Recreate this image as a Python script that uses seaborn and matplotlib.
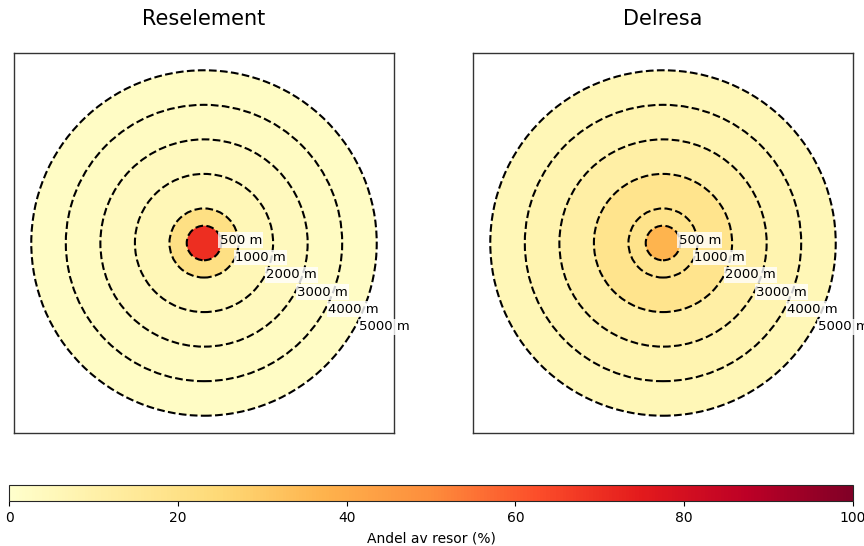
import numpy as np
import matplotlib
matplotlib.use("Agg")
import matplotlib.pyplot as plt
import seaborn as sns
from matplotlib.patches import Circle
from matplotlib.colors import Normalize
from matplotlib.cm import ScalarMappable

# --- DATA ---
radii = [500, 1000, 2000, 3000, 4000, 5000]
ring_labels = ["500 m", "1000 m", "2000 m", "3000 m", "4000 m", "5000 m"]
panel_titles = ["Reselement", "Delresa"]
reselement_share = [70, 21, 6, 4, 3, 2]
delresa_share = [37, 19, 18, 11, 8, 6]
cbar_ticks = [0, 20, 40, 60, 80, 100]

sns.set_style("white", {"text.color": "black", "xtick.color": "black",
                        "axes.labelcolor": "black",
                        "xtick.bottom": True})
cmap = sns.color_palette("YlOrRd", as_cmap=True)
norm = Normalize(vmin=0, vmax=100)

fig = plt.figure(figsize=(8.64, 5.46), dpi=100)
ax1 = fig.add_axes([12 / 864, 113 / 546, 384 / 864, 380 / 546])
ax2 = fig.add_axes([471 / 864, 113 / 546, 384 / 864, 380 / 546])
cax = fig.add_axes([9 / 864, 45 / 546, 844 / 864, 16 / 546])


def draw_rings(ax, shares, title):
    # fill from outer ring inwards so inner discs sit on top
    for r, v in sorted(zip(radii, shares), reverse=True):
        ax.add_patch(Circle((0, 0), r, facecolor=cmap(norm(v)), edgecolor="none"))
    for i, (r, lab) in enumerate(zip(radii, ring_labels)):
        ax.add_patch(Circle((0, 0), r, fill=False, edgecolor="black",
                            linestyle="--", linewidth=1.5))
        ax.text(r * 0.9, 80 - i * 500, lab, fontsize=9.5, ha="left", va="center",
                bbox=dict(facecolor="white", edgecolor="none", alpha=0.8, pad=1),
                clip_on=False)
    ax.set_xlim(-5500, 5500)
    ax.set_ylim(-5500, 5500)
    ax.set_aspect("equal")
    ax.set_xticks([])
    ax.set_yticks([])
    for s in ax.spines.values():
        s.set_color("#333333")
        s.set_linewidth(1.0)
    ax.set_title(title, fontsize=15, pad=20)


draw_rings(ax1, reselement_share, panel_titles[0])
draw_rings(ax2, delresa_share, panel_titles[1])

sm = ScalarMappable(norm=norm, cmap=cmap)
cb = fig.colorbar(sm, cax=cax, orientation="horizontal", ticks=cbar_ticks)
cb.ax.tick_params(labelsize=10, length=3.5, width=0.8, direction="out",
                  bottom=True, color="black")
cb.set_label("Andel av resor (%)", fontsize=10, labelpad=5)
cb.outline.set_linewidth(0.8)

fig.savefig("out.png", dpi=100)
